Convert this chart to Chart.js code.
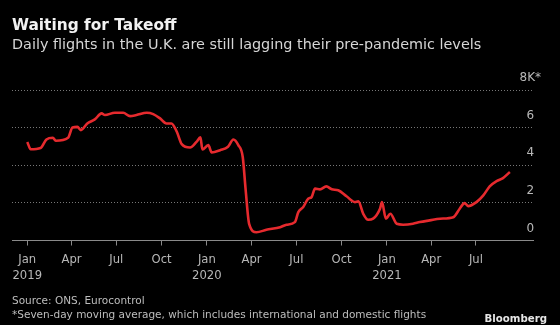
<!DOCTYPE html>
<html>
<head>
<meta charset="utf-8">
<script src="https://cdn.jsdelivr.net/npm/chart.js@4.4.0/dist/chart.umd.min.js"></script>
<style>
  html, body { margin: 0; padding: 0; background: #000; }
  #wrap { position: relative; width: 560px; height: 325px; overflow: hidden; font-family: "DejaVu Sans", sans-serif; }
  #chart { position: absolute; left: 0; top: 0; }
  .t { position: absolute; white-space: nowrap; line-height: 1; }
  #title { left: 12px; top: 18px; font-size: 15.4px; font-weight: bold; color: #f2f2f2; }
  #sub { left: 12px; top: 37px; font-size: 14.4px; color: #d6d6d6; }
  #src { left: 12px; top: 295px; font-size: 10.5px; color: #bdbdbd; }
  #note { left: 12px; top: 309px; font-size: 10.5px; color: #bdbdbd; }
  #logo { right: 13px; top: 314px; font-size: 10.2px; font-weight: bold; color: #e6e6e6; }
</style>
</head>
<body>
<div id="wrap">
  <canvas id="chart" width="560" height="325"></canvas>
  <div class="t" id="title">Waiting for Takeoff</div>
  <div class="t" id="sub">Daily flights in the U.K. are still lagging their pre-pandemic levels</div>
  <div class="t" id="src">Source: ONS, Eurocontrol</div>
  <div class="t" id="note">*Seven-day moving average, which includes international and domestic flights</div>
  <div class="t" id="logo">Bloomberg</div>
</div>
<script>
// 日次フライト数（7日移動平均、千便）— 画像から読み取り
const flightDates = [
  '2019-01-01', '2019-01-08', '2019-01-28', '2019-02-09', '2019-02-22', '2019-02-28',
  '2019-03-25', '2019-04-03', '2019-04-13', '2019-04-20', '2019-05-03', '2019-05-19',
  '2019-06-01', '2019-06-08', '2019-06-28', '2019-07-15', '2019-07-29', '2019-08-11',
  '2019-09-01', '2019-09-14', '2019-09-28', '2019-10-11', '2019-10-21', '2019-11-01',
  '2019-11-11', '2019-11-28', '2019-12-11', '2019-12-19', '2019-12-23', '2020-01-04',
  '2020-01-11', '2020-01-28', '2020-02-13', '2020-02-24', '2020-03-05', '2020-03-14',
  '2020-03-20', '2020-03-27', '2020-04-11', '2020-05-01', '2020-05-29', '2020-06-11',
  '2020-06-28', '2020-07-05', '2020-07-15', '2020-07-25', '2020-08-01', '2020-08-08',
  '2020-08-18', '2020-08-31', '2020-09-11', '2020-09-24', '2020-10-11', '2020-10-28',
  '2020-11-04', '2020-11-14', '2020-11-24', '2020-12-04', '2020-12-18', '2020-12-22',
  '2020-12-30', '2021-01-08', '2021-01-21', '2021-02-03', '2021-02-23', '2021-03-09',
  '2021-03-29', '2021-04-19', '2021-05-16', '2021-05-29', '2021-06-08', '2021-06-15',
  '2021-07-02', '2021-07-16', '2021-07-29', '2021-08-12', '2021-08-25', '2021-09-08'
];
const flightValues = [
  5.24, 4.85, 4.92, 5.37, 5.46, 5.30,
  5.46, 6.01, 6.04, 5.87, 6.22, 6.45,
  6.76, 6.67, 6.79, 6.79, 6.61, 6.67,
  6.79, 6.72, 6.49, 6.22, 6.22, 5.78,
  5.12, 4.94, 5.24, 5.48, 4.84, 5.07,
  4.68, 4.80, 4.98, 5.37, 5.07, 4.44,
  2.67, 0.89, 0.44, 0.57, 0.71, 0.84,
  0.98, 1.51, 1.78, 2.22, 2.31, 2.76,
  2.72, 2.88, 2.72, 2.67, 2.35, 2.04,
  2.08, 1.42, 1.10, 1.16, 1.69, 2.04,
  1.16, 1.42, 0.89, 0.84, 0.89, 0.98,
  1.07, 1.16, 1.24, 1.69, 1.99, 1.83,
  2.04, 2.40, 2.88, 3.16, 3.32, 3.64
];

// x軸の目盛り（四半期ごと）
const xTickDates = [
  '2019-01-01', '2019-04-01', '2019-07-01', '2019-10-01',
  '2020-01-01', '2020-04-01', '2020-07-01', '2020-10-01',
  '2021-01-01', '2021-04-01', '2021-07-01'
];
const xTickLabels = [
  ['Jan', '2019'], 'Apr', 'Jul', 'Oct',
  ['Jan', '2020'], 'Apr', 'Jul', 'Oct',
  ['Jan', '2021'], 'Apr', 'Jul'
];
const yTickValues = [0, 2, 4, 6, 8];
const yTickLabels = ['0', '2', '4', '6', '8K*'];

const X_START = '2018-12-01';
const X_END = '2021-10-25';
const FONT = 'DejaVu Sans';
const LABEL = '#b8b8b8';
const AXIS = '#8a8a8a';
const GRID = '#777';

// 2019-01-01 からの日数
function _day(s) {
  const [y, m, d] = s.split('-').map(Number);
  return (Date.UTC(y, m - 1, d) - Date.UTC(2019, 0, 1)) / 86400000;
}

const points = flightDates.map((d, i) => ({ x: _day(d), y: flightValues[i] }));
const xTicks = xTickDates.map(_day);

// y目盛りのラベルは点線の右端の上に乗せる（mirrorでグラフ内側に描く）
new Chart(document.getElementById('chart'), {
  type: 'line',
  data: {
    datasets: [{
      data: points,
      borderColor: '#e62a2e',
      borderWidth: 2.6,
      pointRadius: 0,
      cubicInterpolationMode: 'monotone',
      fill: false
    }]
  },
  options: {
    responsive: false,
    animation: false,
    layout: { padding: { left: 12, right: 11, top: 90, bottom: 35 } },
    plugins: { legend: { display: false }, tooltip: { enabled: false } },
    scales: {
      x: {
        type: 'linear',
        min: _day(X_START),
        max: _day(X_END),
        afterBuildTicks: axis => { axis.ticks = xTicks.map(v => ({ value: v })); },
        ticks: {
          autoSkip: false, maxRotation: 0, padding: 6, color: LABEL,
          font: { family: FONT, size: 11.6, lineHeight: 1.4 },
          callback: (v, i) => xTickLabels[i]
        },
        grid: { drawOnChartArea: false, drawTicks: true, tickLength: 5, color: AXIS },
        border: { display: true, color: AXIS, width: 1 }
      },
      y: {
        position: 'right',
        min: 0,
        max: 8,
        afterBuildTicks: axis => { axis.ticks = yTickValues.map(v => ({ value: v })); },
        ticks: {
          mirror: true, padding: 8, labelOffset: -12, crossAlign: 'center', color: LABEL,
          font: { family: FONT, size: 12 },
          callback: (v, i) => yTickLabels[i]
        },
        grid: {
          drawTicks: false,
          color: c => (c.tick && c.tick.value === 0 ? 'rgba(0,0,0,0)' : GRID)
        },
        border: { display: false, dash: [1, 2] }
      }
    }
  }
});
</script>
</body>
</html>
